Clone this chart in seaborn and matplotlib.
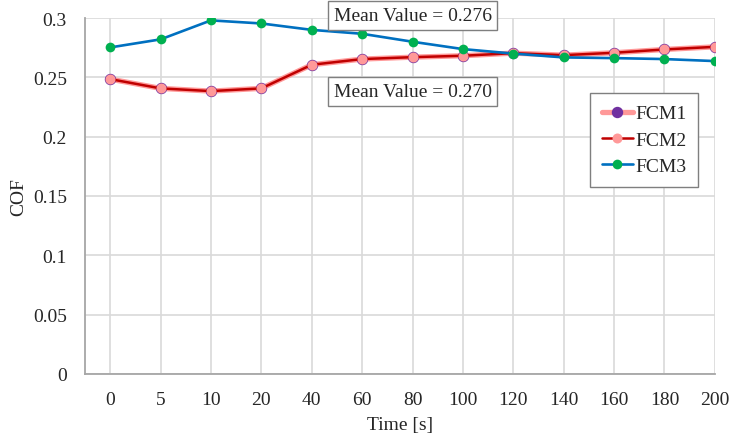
import matplotlib
matplotlib.use("Agg")
import matplotlib.pyplot as plt
import seaborn as sns
import pandas as pd

# values
time_labels = ["0", "5", "10", "20", "40", "60", "80", "100", "120", "140", "160", "180", "200"]
fcm1 = [0.2485, 0.2407, 0.2384, 0.2407, 0.2606, 0.2654, 0.267, 0.2682, 0.2704, 0.2687, 0.2707, 0.2735, 0.2757]
fcm2 = [0.2485, 0.2407, 0.2384, 0.2407, 0.2606, 0.2654, 0.267, 0.2682, 0.2704, 0.2687, 0.2707, 0.2735, 0.2757]
fcm3 = [0.2752, 0.282, 0.298, 0.2954, 0.290, 0.2867, 0.280, 0.2738, 0.270, 0.2668, 0.2662, 0.2654, 0.2637]
yticks = [0, 0.05, 0.1, 0.15, 0.2, 0.25, 0.3]
ytick_labels = ["0", "0.05", "0.1", "0.15", "0.2", "0.25", "0.3"]

df = pd.DataFrame({"Time": time_labels, "FCM1": fcm1, "FCM2": fcm2, "FCM3": fcm3})

sns.set_style("white")
plt.rcParams["font.family"] = ["Liberation Serif", "DejaVu Serif"]

fig = plt.figure(figsize=(7.29, 4.35), dpi=100)
ax = fig.add_axes([0.1166, 0.138, 0.864, 0.8183])

sns.lineplot(data=df, x="Time", y="FCM1", ax=ax, sort=False, color="#FF9999", lw=3.8,
             marker="o", markersize=8.2, markerfacecolor="#7030A0", markeredgewidth=0,
             label="FCM1", zorder=3)
sns.lineplot(data=df, x="Time", y="FCM2", ax=ax, sort=False, color="#C00000", lw=1.8,
             marker="o", markersize=7.2, markerfacecolor="#FF9999", markeredgewidth=0,
             label="FCM2", zorder=4)
sns.lineplot(data=df, x="Time", y="FCM3", ax=ax, sort=False, color="#0070C0", lw=1.9,
             marker="o", markersize=7, markerfacecolor="#00B050", markeredgewidth=0,
             label="FCM3", zorder=5)

ax.set_xlim(-0.5, len(time_labels) - 1)
ax.set_ylim(0, 0.3)
ax.set_yticks(yticks)
ax.set_yticklabels(ytick_labels)
ax.grid(True, color="#D9D9D9", lw=1.2)
ax.set_axisbelow(True)
for s in ["top", "right"]:
    ax.spines[s].set_visible(False)
for s in ["left", "bottom"]:
    ax.spines[s].set_color("#A6A6A6")
    ax.spines[s].set_linewidth(1.3)
ax.tick_params(axis="both", length=0, labelsize=14)
ax.tick_params(axis="y", pad=13)
ax.tick_params(axis="x", pad=12)
ax.set_xlabel("Time [s]", fontsize=14, labelpad=6)
ax.set_ylabel("COF", fontsize=14, labelpad=4)

box = dict(boxstyle="square,pad=0.3", fc="white", ec="#7F7F7F", lw=1)
ax.text(6, 0.302, "Mean Value = 0.276", fontsize=14, ha="center", va="center", bbox=box, zorder=6)
ax.text(6, 0.238, "Mean Value = 0.270", fontsize=14, ha="center", va="center", bbox=box, zorder=6)

leg = ax.legend(loc="upper right", bbox_to_anchor=(0.973, 0.789), borderaxespad=0, fontsize=14,
                frameon=True, fancybox=False, edgecolor="#7F7F7F", framealpha=1,
                handlelength=1.6, borderpad=0.6, labelspacing=0.45, handletextpad=0.1)
leg.get_frame().set_linewidth(1)

fig.savefig("out.png", dpi=100)
